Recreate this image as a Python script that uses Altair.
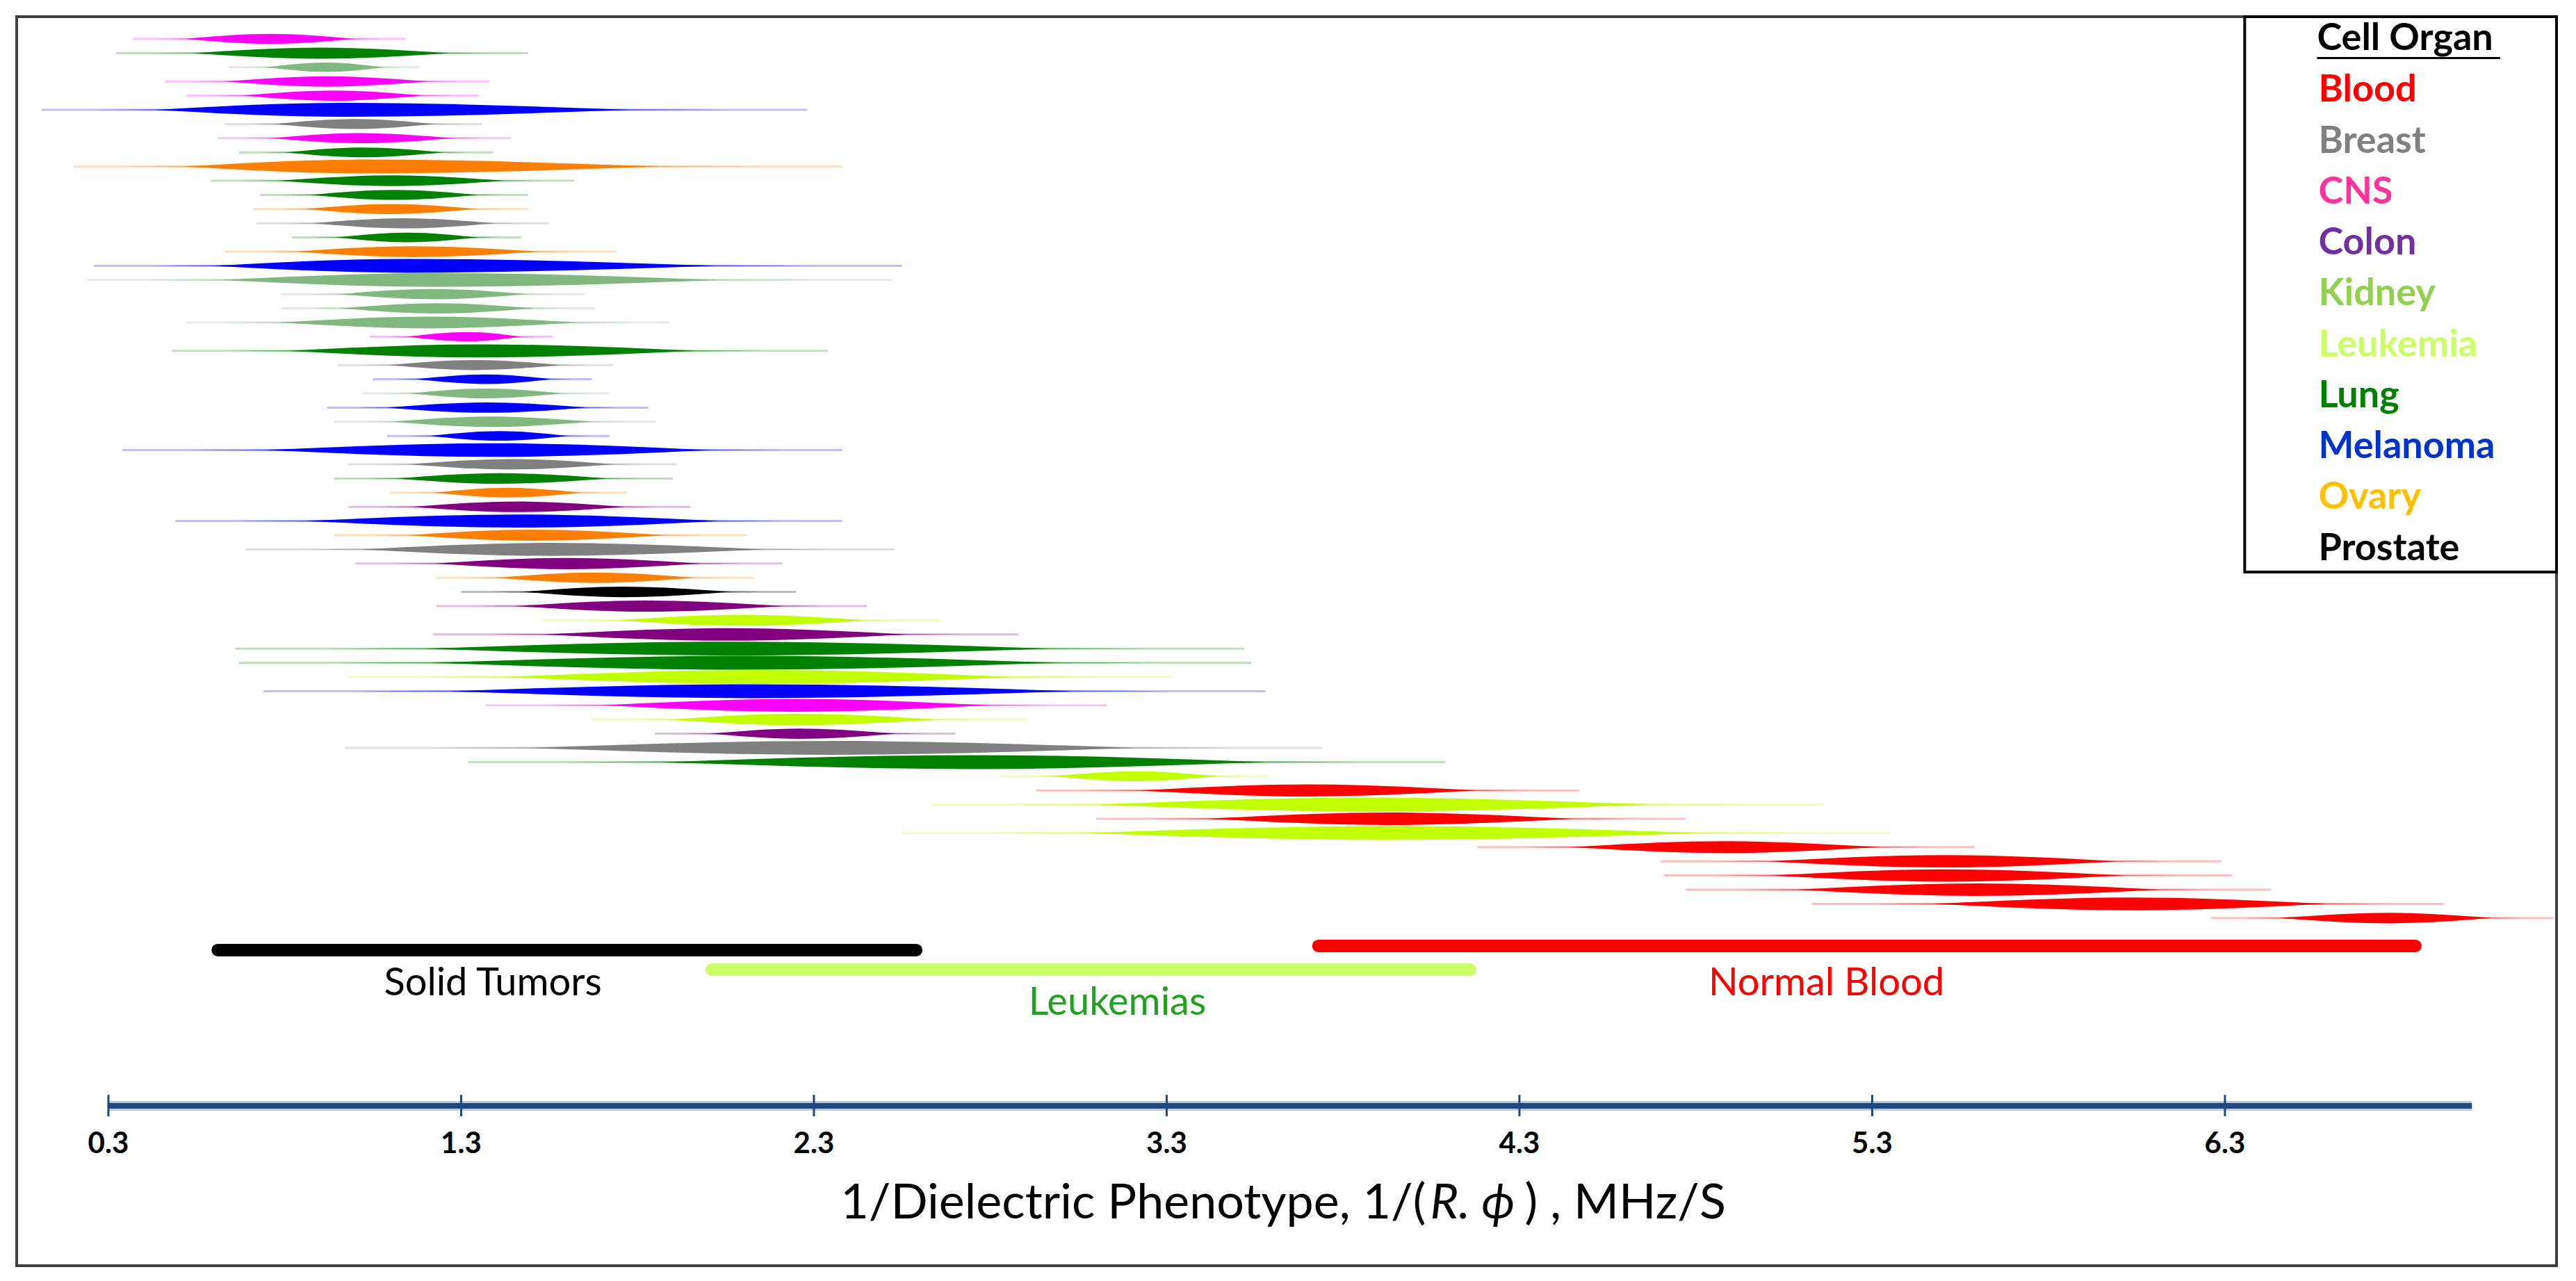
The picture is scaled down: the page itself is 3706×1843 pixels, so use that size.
import altair as alt
import pandas as pd

# ---------------- data ----------------
row_organ = [
    "CNS", "Lung", "Kidney", "CNS", "CNS", "Melanoma", "Breast", "CNS", "Lung", "Ovary",
    "Lung", "Lung", "Ovary", "Breast", "Lung", "Ovary", "Melanoma", "Kidney", "Kidney", "Kidney",
    "Kidney", "CNS", "Lung", "Breast", "Melanoma", "Kidney", "Melanoma", "Kidney", "Melanoma", "Melanoma",
    "Breast", "Lung", "Ovary", "Colon", "Melanoma", "Ovary", "Breast", "Colon", "Ovary", "Prostate",
    "Colon", "Leukemia", "Colon", "Lung", "Lung", "Leukemia", "Melanoma", "CNS", "Leukemia", "Colon",
    "Breast", "Lung", "Leukemia", "Blood", "Leukemia", "Blood", "Leukemia", "Blood", "Blood", "Blood",
    "Blood", "Blood", "Blood",
]
row_low = [
    0.37, 0.32, 0.64, 0.46, 0.52, 0.11, 0.63, 0.61, 0.67, 0.20,
    0.59, 0.73, 0.71, 0.72, 0.82, 0.63, 0.26, 0.24, 0.79, 0.79,
    0.52, 1.04, 0.48, 0.95, 1.05, 1.02, 0.92, 0.94, 1.09, 0.34,
    0.98, 0.94, 1.10, 0.98, 0.49, 0.94, 0.69, 1.00, 1.23, 1.30,
    1.23, 1.53, 1.22, 0.66, 0.67, 0.98, 0.74, 1.37, 1.67, 1.85,
    0.97, 1.32, 2.83, 2.93, 2.63, 3.10, 2.55, 4.18, 4.70, 4.71,
    4.77, 5.13, 6.26,
]
row_center = [
    0.76, 0.90, 0.92, 0.92, 0.94, 0.96, 1.00, 1.01, 1.02, 1.02,
    1.10, 1.11, 1.10, 1.14, 1.15, 1.16, 1.15, 1.23, 1.22, 1.23,
    1.21, 1.32, 1.35, 1.34, 1.37, 1.37, 1.37, 1.38, 1.41, 1.40,
    1.44, 1.41, 1.43, 1.46, 1.46, 1.50, 1.55, 1.60, 1.68, 1.76,
    1.82, 2.10, 2.05, 2.07, 2.10, 2.15, 2.13, 2.25, 2.25, 2.26,
    2.35, 2.75, 3.21, 3.70, 3.87, 3.93, 3.93, 4.88, 5.51, 5.51,
    5.60, 6.04, 6.77,
]
row_high = [
    1.14, 1.49, 1.18, 1.38, 1.35, 2.28, 1.36, 1.44, 1.39, 2.38,
    1.62, 1.49, 1.49, 1.55, 1.47, 1.74, 2.55, 2.52, 1.65, 1.68,
    1.89, 1.56, 2.34, 1.73, 1.67, 1.72, 1.83, 1.85, 1.72, 2.38,
    1.91, 1.90, 1.77, 1.95, 2.38, 2.11, 2.53, 2.21, 2.13, 2.25,
    2.45, 2.66, 2.88, 3.52, 3.54, 3.31, 3.58, 3.13, 2.90, 2.70,
    3.74, 4.09, 3.59, 4.47, 5.16, 4.77, 5.35, 5.59, 6.29, 6.32,
    6.43, 6.92, 7.23,
]

organ_names = ["Blood", "Breast", "CNS", "Colon", "Kidney", "Leukemia", "Lung", "Melanoma", "Ovary", "Prostate"]
organ_row_colors = ["#ff0000", "#808080", "#ff00ff", "#800080", "#80b880", "#bfff00", "#008000", "#0000ff", "#ff8000", "#000000"]
organ_legend_colors = ["#ff0000", "#808080", "#ff3399", "#7030a0", "#92d050", "#ccff66", "#008000", "#0033cc", "#ffc000", "#000000"]

group_names = ["Solid Tumors", "Leukemias", "Normal Blood"]
group_low = [0.61, 2.01, 3.73]
group_high = [2.59, 4.16, 6.84]
group_bar_colors = ["#000000", "#ccff66", "#ff0000"]
group_text_colors = ["#000000", "#22a022", "#ff0000"]

tick_values = [0.3, 1.3, 2.3, 3.3, 4.3, 5.3, 6.3]
tick_labels = ["0.3", "1.3", "2.3", "3.3", "4.3", "5.3", "6.3"]
axis_end = 7.0
axis_title_parts = ["1/Dielectric Phenotype, 1/(", "R. \u03d5", ") , MHz/S"]
legend_title = "Cell Organ"

# ---------------- layout ----------------
XS = alt.Scale(domain=[0.04, 7.24], nice=False, zero=False)
YS = alt.Scale(domain=[-0.569, 87.52], reverse=True, nice=False, zero=False)
FONT = "Lato, 'DejaVu Sans'"

group_bar_row = [65.26, 66.64, 64.97]
group_label_x = [1.39, 3.16, 5.17]
group_label_row = [67.62, 69.0, 67.62]
axis_row = 76.25
tick_top, tick_bottom = 75.47, 76.98
tick_label_row = 78.95
axis_title_row = 83.15
title_part_x = [4.035, 4.047, 4.315]
title_part_align = ["right", "left", "left"]
title_part_style = ["normal", "italic", "normal"]

# ---------------- spindles ----------------
pts = []
tails = []
for i, (o, lo, c, hi) in enumerate(zip(row_organ, row_low, row_center, row_high)):
    r = i + 1
    t = min(0.55 + 0.2 * (hi - lo), 0.98)
    tails.append(dict(row=r, organ=o, lo=lo, hi=hi))
    for layer, frac, half in [("mid", 0.82, 0.2 * t), ("core", 0.62, 0.5 * t)]:
        for x, hh in [(c - frac * (c - lo), 0.0), (c, half), (c + frac * (hi - c), 0.0)]:
            pts.append(dict(row=r, organ=o, layer=layer, x=x, y=r - hh, y2=r + hh))
pts = pd.DataFrame(pts)
tails = pd.DataFrame(tails)

color_enc = alt.Color("organ:N", scale=alt.Scale(domain=organ_names, range=organ_row_colors), legend=None)

tail_layer = alt.Chart(tails).mark_rule(strokeWidth=3, opacity=0.25).encode(
    x=alt.X("lo:Q", scale=XS, axis=None),
    x2="hi:Q",
    y=alt.Y("row:Q", scale=YS, axis=None),
    color=color_enc,
)

mid_layer = alt.Chart(pts).transform_filter(alt.datum.layer == "mid").mark_area(
    orient="vertical", opacity=0.45
).encode(
    x=alt.X("x:Q", scale=XS, axis=None),
    y=alt.Y("y:Q", scale=YS, axis=None, stack=None),
    y2="y2:Q",
    detail="row:N",
    color=color_enc,
)

core_layer = alt.Chart(pts).transform_filter(alt.datum.layer == "core").mark_area(
    orient="vertical", interpolate="monotone", opacity=1
).encode(
    x=alt.X("x:Q", scale=XS, axis=None),
    y=alt.Y("y:Q", scale=YS, axis=None, stack=None),
    y2="y2:Q",
    detail="row:N",
    color=color_enc,
)

# ---------------- group range bars ----------------
groups = pd.DataFrame(dict(name=group_names, lo=group_low, hi=group_high,
                           bar=group_bar_colors, txt=group_text_colors,
                           row=group_bar_row, lx=group_label_x, lrow=group_label_row))

group_bars = alt.Chart(groups).mark_rule(strokeWidth=18, strokeCap="round").encode(
    x=alt.X("lo:Q", scale=XS, axis=None),
    x2="hi:Q",
    y=alt.Y("row:Q", scale=YS, axis=None),
    color=alt.Color("bar:N", scale=None),
)
group_text = alt.Chart(groups).mark_text(font=FONT, fontSize=56, baseline="middle", align="center").encode(
    x=alt.X("lx:Q", scale=XS, axis=None),
    y=alt.Y("lrow:Q", scale=YS, axis=None),
    text="name:N",
    color=alt.Color("txt:N", scale=None),
)

# ---------------- custom axis ----------------
axis_df = pd.DataFrame(dict(a=[tick_values[0]], b=[axis_end], row=[axis_row]))
axis_halo = alt.Chart(axis_df).mark_rule(strokeWidth=14, color="#1f497d", opacity=0.3).encode(
    x=alt.X("a:Q", scale=XS, axis=None), x2="b:Q", y=alt.Y("row:Q", scale=YS, axis=None))
axis_line = alt.Chart(axis_df).mark_rule(strokeWidth=8, color="#1f497d").encode(
    x=alt.X("a:Q", scale=XS, axis=None), x2="b:Q", y=alt.Y("row:Q", scale=YS, axis=None))

ticks = pd.DataFrame(dict(v=tick_values, lab=tick_labels, t0=tick_top, t1=tick_bottom, lr=tick_label_row))
tick_marks = alt.Chart(ticks).mark_rule(strokeWidth=3, color="#1f497d").encode(
    x=alt.X("v:Q", scale=XS, axis=None),
    y=alt.Y("t0:Q", scale=YS, axis=None), y2="t1:Q")
tick_text = alt.Chart(ticks).mark_text(font=FONT, fontSize=42, fontWeight="bold", color="black",
                                       baseline="middle", align="center").encode(
    x=alt.X("v:Q", scale=XS, axis=None),
    y=alt.Y("lr:Q", scale=YS, axis=None), text="lab:N")

title_layers = []
for part, px, al, st in zip(axis_title_parts, title_part_x, title_part_align, title_part_style):
    tdf = pd.DataFrame(dict(x=[px], row=[axis_title_row], t=[part]))
    title_layers.append(
        alt.Chart(tdf).mark_text(font=FONT, fontSize=70, fontStyle=st, color="black",
                                 baseline="middle", align=al).encode(
            x=alt.X("x:Q", scale=XS, axis=None), y=alt.Y("row:Q", scale=YS, axis=None), text="t:N")
    )

# ---------------- custom legend ----------------
box_df = pd.DataFrame(dict(x=[6.356], x2=[7.24], y=[-0.569], y2=[38.6]))
legend_box = alt.Chart(box_df).mark_rect(fillOpacity=0, stroke="black", strokeWidth=4).encode(
    x=alt.X("x:Q", scale=XS, axis=None), x2="x2:Q",
    y=alt.Y("y:Q", scale=YS, axis=None), y2="y2:Q")

leg = pd.DataFrame(dict(name=organ_names, col=organ_legend_colors,
                        row=[4.65 + 3.59 * k for k in range(len(organ_names))],
                        x=[6.565] * len(organ_names)))
legend_text = alt.Chart(leg).mark_text(font=FONT, fontSize=54, fontWeight="bold",
                                       baseline="middle", align="left").encode(
    x=alt.X("x:Q", scale=XS, axis=None), y=alt.Y("row:Q", scale=YS, axis=None),
    text="name:N", color=alt.Color("col:N", scale=None))

head_df = pd.DataFrame(dict(x=[6.561], x2=[7.08], row=[1.0], urow=[2.35], t=[legend_title]))
legend_head = alt.Chart(head_df).mark_text(font=FONT, fontSize=54, fontWeight="bold", color="black",
                                           baseline="middle", align="left").encode(
    x=alt.X("x:Q", scale=XS, axis=None), y=alt.Y("row:Q", scale=YS, axis=None), text="t:N")
legend_uline = alt.Chart(head_df).mark_rule(strokeWidth=3, color="black").encode(
    x=alt.X("x:Q", scale=XS, axis=None), x2="x2:Q", y=alt.Y("urow:Q", scale=YS, axis=None))

chart = alt.layer(
    tail_layer, mid_layer, core_layer,
    group_bars, group_text,
    axis_halo, axis_line, tick_marks, tick_text, *title_layers,
    legend_box, legend_text, legend_head, legend_uline,
).resolve_scale(color="independent").properties(
    width=3654, height=1797,
    padding={"left": 16, "top": 16, "right": 8, "bottom": 8},
    autosize=alt.AutoSizeParams(type="none"),
).configure_view(stroke="#404040", strokeWidth=4)

chart.save("out.html", embed_options={"renderer": "svg", "actions": False})
